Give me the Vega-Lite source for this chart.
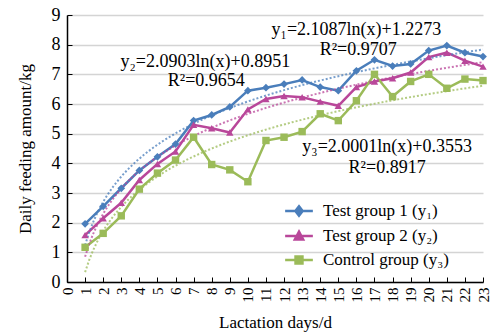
{
  "$schema": "https://vega.github.io/schema/vega-lite/v6.json",
  "width": 416,
  "height": 267,
  "autosize": {"type": "none"},
  "padding": {"left": 67, "top": 15, "right": 11, "bottom": 52},
  "config": {
    "font": "Liberation Serif",
    "view": {"stroke": null},
    "axis": {"labelFont": "Liberation Serif", "titleFont": "Liberation Serif", "labelColor": "#000", "titleColor": "#000", "titleFontWeight": "normal"},
    "legend": {"labelFont": "Liberation Serif"}
  },
  "datasets": {
    "main": [
      {"day": 1, "value": 1.96, "series": "Test group 1 (y₁)"},
      {"day": 2, "value": 2.55, "series": "Test group 1 (y₁)"},
      {"day": 3, "value": 3.16, "series": "Test group 1 (y₁)"},
      {"day": 4, "value": 3.76, "series": "Test group 1 (y₁)"},
      {"day": 5, "value": 4.22, "series": "Test group 1 (y₁)"},
      {"day": 6, "value": 4.65, "series": "Test group 1 (y₁)"},
      {"day": 7, "value": 5.44, "series": "Test group 1 (y₁)"},
      {"day": 8, "value": 5.63, "series": "Test group 1 (y₁)"},
      {"day": 9, "value": 5.9, "series": "Test group 1 (y₁)"},
      {"day": 10, "value": 6.45, "series": "Test group 1 (y₁)"},
      {"day": 11, "value": 6.55, "series": "Test group 1 (y₁)"},
      {"day": 12, "value": 6.67, "series": "Test group 1 (y₁)"},
      {"day": 13, "value": 6.81, "series": "Test group 1 (y₁)"},
      {"day": 14, "value": 6.57, "series": "Test group 1 (y₁)"},
      {"day": 15, "value": 6.45, "series": "Test group 1 (y₁)"},
      {"day": 16, "value": 7.12, "series": "Test group 1 (y₁)"},
      {"day": 17, "value": 7.49, "series": "Test group 1 (y₁)"},
      {"day": 18, "value": 7.28, "series": "Test group 1 (y₁)"},
      {"day": 19, "value": 7.35, "series": "Test group 1 (y₁)"},
      {"day": 20, "value": 7.8, "series": "Test group 1 (y₁)"},
      {"day": 21, "value": 7.97, "series": "Test group 1 (y₁)"},
      {"day": 22, "value": 7.73, "series": "Test group 1 (y₁)"},
      {"day": 23, "value": 7.6, "series": "Test group 1 (y₁)"},
      {"day": 1, "value": 1.58, "series": "Test group 2 (y₂)"},
      {"day": 2, "value": 2.15, "series": "Test group 2 (y₂)"},
      {"day": 3, "value": 2.67, "series": "Test group 2 (y₂)"},
      {"day": 4, "value": 3.44, "series": "Test group 2 (y₂)"},
      {"day": 5, "value": 3.98, "series": "Test group 2 (y₂)"},
      {"day": 6, "value": 4.4, "series": "Test group 2 (y₂)"},
      {"day": 7, "value": 5.3, "series": "Test group 2 (y₂)"},
      {"day": 8, "value": 5.18, "series": "Test group 2 (y₂)"},
      {"day": 9, "value": 5.04, "series": "Test group 2 (y₂)"},
      {"day": 10, "value": 5.82, "series": "Test group 2 (y₂)"},
      {"day": 11, "value": 6.17, "series": "Test group 2 (y₂)"},
      {"day": 12, "value": 6.27, "series": "Test group 2 (y₂)"},
      {"day": 13, "value": 6.23, "series": "Test group 2 (y₂)"},
      {"day": 14, "value": 6.08, "series": "Test group 2 (y₂)"},
      {"day": 15, "value": 5.94, "series": "Test group 2 (y₂)"},
      {"day": 16, "value": 6.57, "series": "Test group 2 (y₂)"},
      {"day": 17, "value": 6.76, "series": "Test group 2 (y₂)"},
      {"day": 18, "value": 6.87, "series": "Test group 2 (y₂)"},
      {"day": 19, "value": 7.06, "series": "Test group 2 (y₂)"},
      {"day": 20, "value": 7.58, "series": "Test group 2 (y₂)"},
      {"day": 21, "value": 7.73, "series": "Test group 2 (y₂)"},
      {"day": 22, "value": 7.46, "series": "Test group 2 (y₂)"},
      {"day": 23, "value": 7.26, "series": "Test group 2 (y₂)"},
      {"day": 1, "value": 1.17, "series": "Control group (y₃)"},
      {"day": 2, "value": 1.64, "series": "Control group (y₃)"},
      {"day": 3, "value": 2.23, "series": "Control group (y₃)"},
      {"day": 4, "value": 3.13, "series": "Control group (y₃)"},
      {"day": 5, "value": 3.67, "series": "Control group (y₃)"},
      {"day": 6, "value": 4.11, "series": "Control group (y₃)"},
      {"day": 7, "value": 4.88, "series": "Control group (y₃)"},
      {"day": 8, "value": 3.96, "series": "Control group (y₃)"},
      {"day": 9, "value": 3.78, "series": "Control group (y₃)"},
      {"day": 10, "value": 3.38, "series": "Control group (y₃)"},
      {"day": 11, "value": 4.77, "series": "Control group (y₃)"},
      {"day": 12, "value": 4.88, "series": "Control group (y₃)"},
      {"day": 13, "value": 5.07, "series": "Control group (y₃)"},
      {"day": 14, "value": 5.67, "series": "Control group (y₃)"},
      {"day": 15, "value": 5.44, "series": "Control group (y₃)"},
      {"day": 16, "value": 6.11, "series": "Control group (y₃)"},
      {"day": 17, "value": 7.0, "series": "Control group (y₃)"},
      {"day": 18, "value": 6.25, "series": "Control group (y₃)"},
      {"day": 19, "value": 6.76, "series": "Control group (y₃)"},
      {"day": 20, "value": 7.0, "series": "Control group (y₃)"},
      {"day": 21, "value": 6.53, "series": "Control group (y₃)"},
      {"day": 22, "value": 6.84, "series": "Control group (y₃)"},
      {"day": 23, "value": 6.79, "series": "Control group (y₃)"}
    ],
    "notes": [
      {"day": 16.0, "value": 8.48, "label": "y₁=2.1087ln(x)+1.2273"},
      {"day": 16.1, "value": 7.82, "label": "R²=0.9707"},
      {"day": 7.65, "value": 7.4, "label": "y₂=2.0903ln(x)+0.8951"},
      {"day": 7.7, "value": 6.76, "label": "R²=0.9654"},
      {"day": 17.7, "value": 4.56, "label": "y₃=2.0001ln(x)+0.3553"},
      {"day": 17.7, "value": 3.83, "label": "R²=0.8917"}
    ]
  },
  "encoding": {
    "x": {
      "field": "day", "type": "quantitative",
      "scale": {"domain": [0, 23], "nice": false, "zero": false},
      "axis": {
        "values": [0,1,2,3,4,5,6,7,8,9,10,11,12,13,14,15,16,17,18,19,20,21,22,23],
        "labelOverlap": false, "labelFlush": false,
        "labelAngle": -90, "labelFontSize": 15, "labelPadding": 10,
        "tickSize": -5, "tickColor": "#000", "domainColor": "#000", "domainWidth": 1.5,
        "grid": false, "title": "Lactation days/d", "titleFontSize": 17, "titlePadding": 12,
        "labelBaseline": "middle"
      }
    },
    "y": {
      "field": "value", "type": "quantitative",
      "scale": {"domain": [0, 9], "nice": false},
      "axis": {
        "values": [0,1,2,3,4,5,6,7,8,9],
        "labelOverlap": false, "labelFlush": false,
        "labelFontSize": 18, "labelPadding": 12,
        "tickSize": -5, "tickColor": "#000", "domainColor": "#000", "domainWidth": 1.5,
        "grid": true, "gridColor": "#d4d4d4", "gridWidth": 1.5,
        "title": "Daily feeding amount/kg", "titleFontSize": 17, "titlePadding": 17
      }
    }
  },
  "layer": [
    {
      "data": {"name": "main"},
      "mark": {"type": "line", "strokeWidth": 2.5},
      "encoding": {
        "color": {
          "field": "series", "type": "nominal",
          "scale": {"domain": ["Test group 1 (y₁)", "Test group 2 (y₂)", "Control group (y₃)"], "range": ["#4a7ebb", "#b9479a", "#9bbb59"]},
          "legend": {
            "title": null, "orient": "none", "legendX": 216, "legendY": 186,
            "labelFont": "Liberation Serif", "labelFontSize": 17, "labelColor": "#000", "rowPadding": 5,
            "symbolSize": 300, "symbolStrokeWidth": 2.5, "labelOffset": 14, "symbolOffset": 6,
            "encode": {
              "labels": {
                "update": {
                  "font": {"value": "Liberation Serif"},
                  "fontSize": {"value": 17}
                }
              },
              "symbols": {
                "update": {
                  "shape": {"signal": "['M-1.6,0H1.6M0,-0.55L0.42,0L0,0.55L-0.42,0Z','M-1.6,0H1.6M0,-0.5L0.48,0.4L-0.48,0.4Z','M-1.6,0H1.6M-0.4,-0.4H0.4V0.4H-0.4Z'][datum.index]"},
                  "fill": {"signal": "['#4a7ebb','#b9479a','#9bbb59'][datum.index]"},
                  "stroke": {"signal": "['#4a7ebb','#b9479a','#9bbb59'][datum.index]"}
                }
              }
            }
          }
        }
      }
    },
    {
      "data": {"name": "main"},
      "transform": [{"regression": "value", "on": "day", "method": "log", "groupby": ["series"], "extent": [1, 23]}],
      "mark": {"type": "line", "strokeDash": [2, 2], "strokeWidth": 2, "opacity": 0.75},
      "encoding": {
        "color": {"field": "series", "type": "nominal"}
      }
    },
    {
      "data": {"name": "main"},
      "transform": [{"filter": "datum.series === 'Test group 1 (y₁)'"}],
      "mark": {"type": "point", "filled": true, "opacity": 1, "size": 60, "shape": "diamond", "color": "#4a7ebb"},
      "encoding": {}
    },
    {
      "data": {"name": "main"},
      "transform": [{"filter": "datum.series === 'Test group 2 (y₂)'"}],
      "mark": {"type": "point", "filled": true, "opacity": 1, "size": 55, "shape": "triangle-up", "color": "#b9479a"},
      "encoding": {}
    },
    {
      "data": {"name": "main"},
      "transform": [{"filter": "datum.series === 'Control group (y₃)'"}],
      "mark": {"type": "point", "filled": true, "opacity": 1, "size": 55, "shape": "square", "color": "#9bbb59"},
      "encoding": {}
    },
    {
      "data": {"name": "notes"},
      "mark": {"type": "text", "fontSize": 18, "font": "Liberation Serif", "color": "#000", "align": "center", "baseline": "middle"},
      "encoding": {
        "text": {"field": "label"}
      }
    }
  ]
}
